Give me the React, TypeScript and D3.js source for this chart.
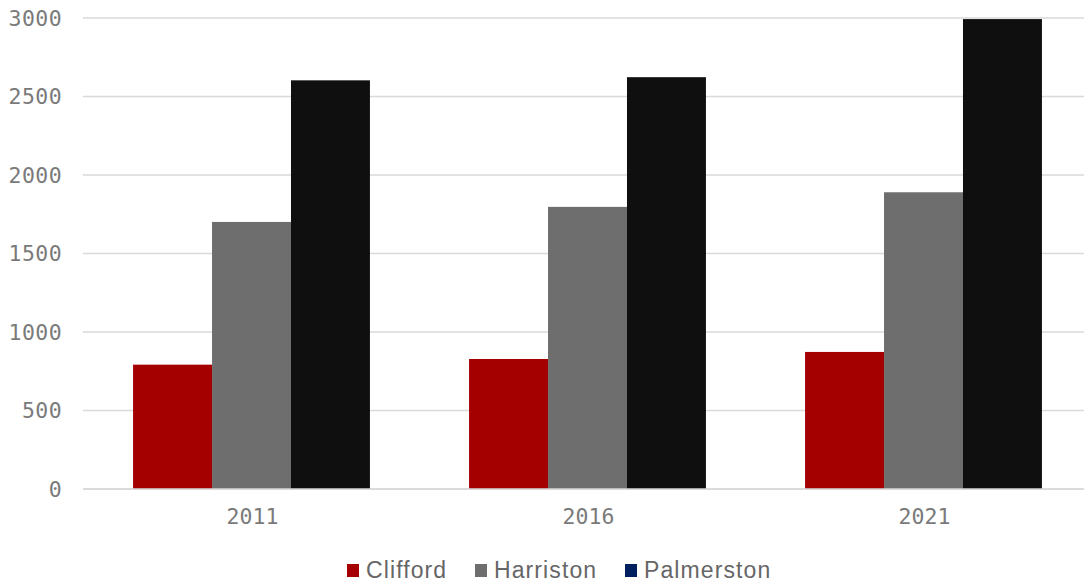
import React from "react";
import * as d3 from "d3";

const categories = ["2011", "2016", "2021"];
const seriesNames = ["Clifford", "Harriston", "Palmerston"];
const clifford = [792, 828, 873];
const harriston = [1701, 1797, 1890];
const palmerston = [2603, 2623, 2993];
const yTicks = [0, 500, 1000, 1500, 2000, 2500, 3000];
const barColors = ["#A50000", "#6E6E6E", "#0F0F0F"];
const legendColors = ["#A50000", "#6E6E6E", "#002060"];

const W = 1084;
const H = 584;
const tickFont = "DejaVu Sans Mono, Liberation Mono, monospace";
const legendFont = "Liberation Sans, Arial, sans-serif";

export default function App() {
  const values = [clifford, harriston, palmerston];
  const x0 = d3.scaleBand<string>().domain(categories).range([83.5, 1091.5]).paddingInner(0.295).paddingOuter(0.1475);
  const x1 = d3.scaleBand<string>().domain(seriesNames).range([0, x0.bandwidth()]).padding(0);
  const y = d3.scaleLinear().domain([0, 3000]).range([489, 18]);

  const legendX = [347, 475, 625];

  return (
    <svg width={W} height={H} style={{ position: "absolute", left: 0, top: 0, background: "#fff" }}>
      {yTicks.map((t) => (
        <g key={t}>
          <line x1={83} x2={W} y1={y(t)} y2={y(t)} stroke="#D9D9D9" strokeWidth={1.5} />
          <text x={62} y={y(t)} dy="0.36em" textAnchor="end" fontFamily={tickFont} fontSize={21.5} letterSpacing={0.4} fill="#7A7A7A">
            {t}
          </text>
        </g>
      ))}
      {categories.map((c, i) => (
        <g key={c} transform={`translate(${x0(c)},0)`}>
          {seriesNames.map((s, j) => (
            <rect key={s} x={x1(s)} y={y(values[j][i])} width={x1.bandwidth()} height={y(0) - y(values[j][i])} fill={barColors[j]} />
          ))}
          <text x={x0.bandwidth() / 2 + 1} y={524} textAnchor="middle" fontFamily={tickFont} fontSize={21.5} fill="#7A7A7A">
            {c}
          </text>
        </g>
      ))}
      <line x1={83} x2={W} y1={y(0)} y2={y(0)} stroke="#D9D9D9" strokeWidth={1.5} />
      {seriesNames.map((s, j) => (
        <g key={s} transform={`translate(${legendX[j]},0)`}>
          <rect x={0} y={564} width={12} height={13} fill={legendColors[j]} />
          <text x={19} y={578} fontFamily={legendFont} fontSize={23} letterSpacing={1.1} fill="#666666">
            {s}
          </text>
        </g>
      ))}
    </svg>
  );
}
